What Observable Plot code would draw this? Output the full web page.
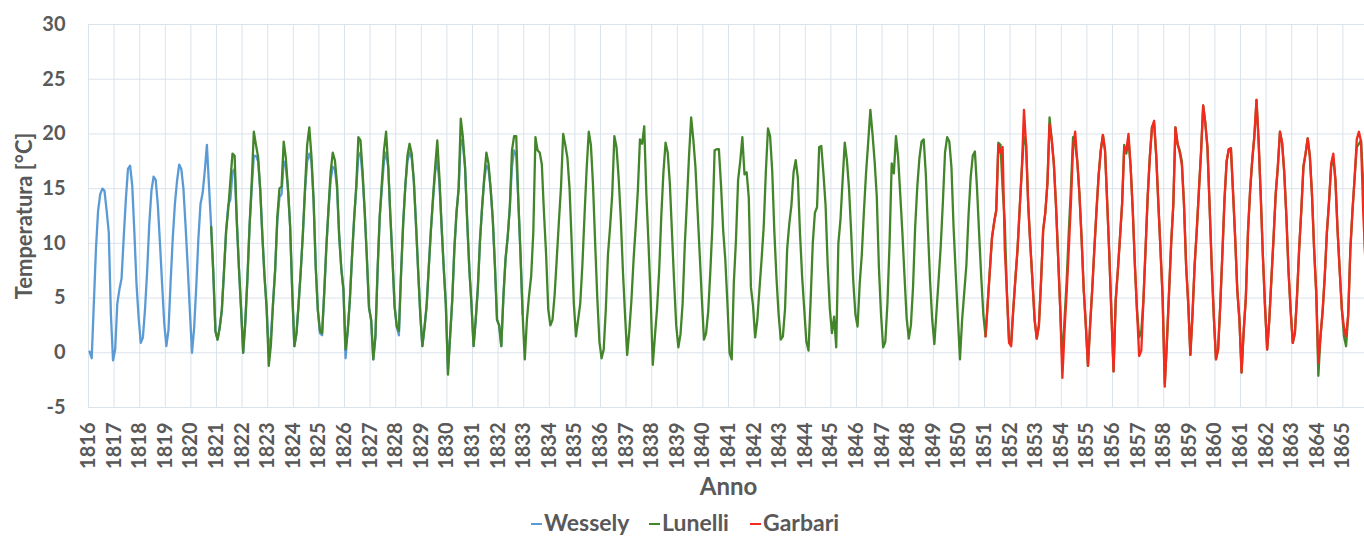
<!DOCTYPE html>
<html>
<head>
<meta charset="utf-8">
<script src="https://cdn.jsdelivr.net/npm/d3@7"></script>
<script src="https://cdn.jsdelivr.net/npm/@observablehq/plot@0.6"></script>
<style>
  html, body { margin: 0; padding: 0; background: #fff; overflow: hidden; }
  #chart { position: relative; width: 1364px; height: 536px; }
  #legend { position: absolute; left: 0; top: 505px; width: 1364px; height: 34px;
            font-family: Lato, "Open Sans", sans-serif; font-weight: bold; font-size: 23px; color: #595959; }
  #legend .item { position: absolute; top: 0; height: 34px; display: flex; align-items: center; white-space: nowrap; }
  #legend .swatch { width: 11px; height: 2px; margin-right: 2px; position: relative; top: 2px; }
</style>
</head>
<body>
<div id="chart"></div>
<script>
// Monthly mean temperatures (°C), one row per year, Jan..Dec.
// Each series starts at [year, month index] of its first value.
const wesselyStart = [1816, 0];
const wessely = [
  0.1, -0.5, 4.5, 9.5, 13.0, 14.5, 15.0, 14.8, 13.0, 11.0, 3.5, -0.7,   // 1816
  0.3, 4.5, 5.8, 6.8, 10.5, 14.0, 16.8, 17.1, 15.3, 11.0, 6.3, 3.2,     // 1817
  0.9, 1.4, 4.0, 7.5, 11.8, 14.8, 16.1, 15.8, 13.5, 10.0, 6.3, 2.7,     // 1818
  0.6, 2.1, 6.5, 10.5, 13.6, 15.7, 17.2, 16.8, 15.0, 11.6, 7.9, 3.9,    // 1819
  0.0, 2.2, 6.0, 10.4, 13.6, 14.6, 16.6, 19.0, 15.2, 11.5, 7.3, 2.0,    // 1820
  1.2, 2.3, 3.9, 7.4, 11.1, 13.5, 14.0, 16.5, 16.8, 12.1, 7.8, 4.1,     // 1821
  0.0, 2.8, 6.8, 11.6, 15.0, 18.0, 18.0, 17.5, 14.9, 10.7, 7.0, 4.1,    // 1822
  0.0, 1.5, 4.5, 7.6, 12.0, 14.2, 14.5, 17.5, 17.0, 15.0, 11.6, 5.6,    // 1823
  0.6, 1.8, 4.5, 7.5, 10.9, 14.8, 17.5, 18.2, 17.5, 14.0, 7.9, 3.9,     // 1824
  1.8, 1.6, 5.5, 9.7, 13.0, 15.8, 17.0, 16.8, 15.0, 10.7, 7.7, 5.8,     // 1825
  -0.5, 2.0, 4.8, 8.7, 12.2, 15.0, 18.0, 18.3, 16.0, 12.8, 8.6, 4.1,    // 1826
  3.0, -0.6, 1.5, 7.5, 12.4, 15.0, 17.5, 18.3, 17.0, 12.5, 8.5, 4.2,    // 1827
  2.4, 1.6, 7.2, 11.8, 15.2, 17.5, 18.3, 17.8, 15.7, 11.8, 7.6, 3.6,    // 1828
  0.6, 2.3, 4.3, 7.8, 11.2, 14.0, 16.5, 17.6, 15.5, 11.6, 7.8, 4.4,     // 1829
  -1.5, 1.5, 4.8, 9.5, 12.8, 15.0, 19.5, 19.0, 17.0, 12.1, 7.7, 4.5,    // 1830
  0.6, 3.0, 5.9, 10.2, 13.3, 15.8, 17.1, 16.8, 15.0, 12.2, 8.0, 3.0,    // 1831
  2.5, 0.6, 5.2, 8.6, 10.6, 13.3, 17.0, 18.5, 18.0, 13.8, 9.0, 3.5      // 1832
];

const lunelliStart = [1820, 9];
const lunelli = [
  11.5, 7.3, 2.0,                                                       // 1820 (Oct-Dec)
  1.2, 2.3, 3.9, 7.4, 11.1, 13.1, 15.7, 18.2, 18.0, 12.1, 7.8, 4.1,     // 1821
  0.0, 2.8, 6.8, 11.6, 15.5, 20.2, 19.0, 17.9, 14.9, 10.7, 7.0, 4.1,    // 1822
  -1.2, 0.7, 4.5, 7.6, 12.4, 15.0, 15.2, 19.3, 17.8, 15.0, 11.6, 5.6,   // 1823
  0.6, 1.8, 4.5, 7.5, 10.9, 15.1, 19.0, 20.6, 18.0, 14.0, 7.9, 3.9,     // 1824
  2.0, 1.8, 5.5, 9.7, 13.2, 16.5, 18.3, 17.6, 15.4, 10.7, 7.7, 5.8,     // 1825
  0.3, 2.0, 4.8, 8.7, 12.2, 15.2, 19.7, 19.4, 16.5, 12.8, 8.6, 4.1,     // 1826
  3.0, -0.6, 1.5, 7.5, 12.4, 15.5, 18.5, 20.2, 17.0, 12.5, 8.5, 4.2,    // 1827
  2.4, 2.0, 7.2, 11.8, 15.2, 18.0, 19.1, 18.2, 15.7, 11.8, 7.6, 3.6,    // 1828
  0.6, 2.3, 4.3, 7.8, 11.2, 14.2, 17.0, 19.4, 16.0, 11.6, 7.8, 4.4,     // 1829
  -2.0, 1.5, 4.8, 9.5, 12.8, 15.0, 21.4, 19.7, 17.0, 12.1, 7.7, 4.5,    // 1830
  0.6, 3.0, 5.9, 10.2, 13.3, 16.0, 18.3, 17.3, 15.0, 12.2, 8.0, 3.0,    // 1831
  2.5, 0.6, 5.2, 8.6, 10.6, 13.3, 18.5, 19.8, 19.8, 13.8, 9.0, 3.5,     // 1832
  -0.6, 3.0, 5.2, 7.0, 11.0, 19.7, 18.5, 18.3, 17.2, 12.8, 9.0, 4.0,    // 1833
  2.5, 3.0, 5.3, 8.6, 12.0, 15.2, 20.0, 19.0, 17.8, 15.0, 10.0, 4.5,    // 1834
  1.5, 3.0, 4.5, 8.0, 12.5, 16.8, 20.2, 19.0, 15.3, 10.0, 5.0, 1.0,     // 1835
  -0.5, 0.3, 4.0, 9.0, 11.5, 14.5, 19.8, 18.8, 16.0, 12.3, 7.5, 3.5,    // 1836
  -0.2, 2.0, 4.8, 8.5, 11.5, 14.8, 19.5, 19.1, 20.7, 14.5, 10.0, 5.0,   // 1837
  -1.1, 1.5, 4.0, 7.5, 12.5, 16.5, 19.2, 18.3, 15.5, 11.0, 6.5, 2.5,    // 1838
  0.5, 1.7, 4.5, 9.8, 13.8, 18.0, 21.5, 19.5, 17.0, 13.0, 9.0, 5.0,     // 1839
  1.2, 1.8, 3.8, 7.5, 11.8, 18.5, 18.6, 18.6, 15.3, 11.2, 8.5, 4.5,     // 1840
  0.0, -0.6, 6.4, 10.3, 15.8, 17.5, 19.7, 16.3, 16.5, 14.2, 6.0, 4.3,   // 1841
  1.4, 3.0, 5.8, 8.5, 11.5, 16.5, 20.5, 19.8, 16.6, 11.0, 6.8, 3.5,     // 1842
  1.2, 1.5, 4.0, 9.5, 11.8, 13.5, 16.5, 17.6, 16.0, 11.0, 7.0, 4.0,     // 1843
  1.0, 0.2, 4.8, 10.0, 12.8, 13.3, 18.8, 18.9, 16.4, 13.5, 8.0, 4.0,    // 1844
  1.8, 3.3, 0.5, 10.0, 12.2, 15.8, 19.2, 17.6, 15.0, 11.0, 6.5, 3.5,    // 1845
  2.4, 6.3, 9.0, 13.0, 16.5, 19.3, 22.2, 20.0, 17.5, 14.3, 7.8, 3.5,    // 1846
  0.5, 1.0, 4.5, 10.0, 17.3, 16.4, 19.8, 17.9, 14.5, 11.0, 7.0, 3.2,    // 1847
  1.3, 2.5, 6.0, 11.5, 15.2, 17.8, 19.3, 19.5, 16.3, 11.2, 6.5, 3.0,    // 1848
  0.8, 3.8, 6.7, 9.8, 13.8, 18.3, 19.7, 19.3, 17.0, 11.5, 7.3, 3.3,     // 1849
  -0.6, 3.0, 5.5, 8.0, 12.5, 16.0, 18.0, 18.4, 15.0, 10.8, 6.8, 3.4,    // 1850
  1.5, 4.5, 7.5, 10.5, 11.9, 13.0, 19.2, 19.0, 15.0, 12.0, 5.5, 1.2,    // 1851
  1.0, 4.0, 6.8, 9.5, 13.2, 16.8, 19.7, 19.0, 13.5, 9.8, 6.5, 3.0,      // 1852
  1.3, 2.5, 6.5, 11.2, 12.8, 15.5, 21.5, 19.5, 17.3, 13.5, 8.8, 4.0,    // 1853
  -0.9, 3.0, 6.5, 11.0, 15.0, 19.7, 19.0, 17.5, 14.5, 10.5, 5.8, 2.5,   // 1854
  -1.2, 2.5, 5.8, 9.5, 13.0, 16.2, 18.5, 19.9, 18.5, 13.8, 9.0, 3.5,    // 1855
  -1.7, 4.8, 7.5, 10.5, 13.6, 19.0, 18.2, 19.5, 17.0, 13.0, 8.0, 3.8,   // 1856
  1.4, 2.0, 4.8, 9.5, 14.3, 17.9, 20.6, 21.0, 18.0, 13.6, 9.4, 5.0,     // 1857
  -2.8, 1.0, 5.5, 10.0, 13.5, 20.6, 19.1, 18.5, 17.5, 13.6, 8.0, 4.5,   // 1858
  -0.2, 3.5, 8.0, 11.2, 14.8, 18.3, 22.6, 21.0, 18.8, 13.5, 8.0, 3.3,   // 1859
  -0.6, 0.3, 4.3, 9.0, 14.0, 17.5, 18.6, 18.7, 14.7, 10.5, 5.7, 3.0,    // 1860
  -1.8, 2.0, 5.0, 11.0, 14.8, 17.6, 19.8, 23.1, 19.3, 14.3, 8.8, 4.2,   // 1861
  0.3, 3.0, 6.8, 10.5, 14.5, 17.0, 20.2, 19.2, 16.5, 12.5, 7.5, 3.9,    // 1862
  0.9, 1.8, 5.2, 9.5, 13.0, 17.0, 18.2, 19.6, 18.0, 14.5, 9.5, 5.5,     // 1863
  -2.1, 1.5, 3.8, 7.0, 11.0, 13.8, 17.0, 17.8, 15.8, 11.2, 7.5, 4.0,    // 1864
  1.5, 0.6, 3.5, 9.5, 13.0, 16.0, 18.8, 19.1, 19.4, 15.5, 8.5, 3.0      // 1865
];

const garbariStart = [1851, 0];
const garbari = [
  1.5, 4.5, 7.5, 10.5, 11.9, 13.0, 19.0, 18.3, 18.8, 9.5, 5.5, 0.9,     // 1851
  0.6, 4.0, 6.8, 9.5, 13.2, 16.8, 22.2, 19.0, 13.5, 9.8, 6.5, 3.0,      // 1852
  1.3, 2.5, 6.5, 11.2, 12.8, 15.5, 20.9, 19.5, 17.3, 13.5, 8.8, 4.0,    // 1853
  -2.3, 2.0, 5.5, 9.4, 13.6, 18.8, 20.2, 17.5, 14.5, 10.5, 5.8, 2.5,    // 1854
  -1.2, 2.5, 5.8, 9.5, 13.0, 16.2, 18.5, 19.9, 18.5, 13.8, 9.0, 3.5,    // 1855
  -1.7, 4.8, 7.5, 10.5, 13.6, 18.8, 18.5, 20.0, 17.0, 13.0, 8.0, 3.8,   // 1856
  -0.3, 0.2, 4.8, 9.5, 14.3, 17.9, 20.6, 21.2, 18.0, 13.6, 9.4, 5.0,    // 1857
  -3.1, 1.0, 5.5, 10.0, 13.5, 20.6, 19.1, 18.3, 17.2, 13.6, 8.0, 4.5,   // 1858
  -0.2, 3.5, 8.0, 11.2, 14.8, 18.3, 22.6, 21.0, 18.8, 13.5, 8.0, 3.3,   // 1859
  -0.6, 0.3, 4.3, 9.0, 14.0, 17.5, 18.6, 18.7, 14.7, 10.5, 5.7, 3.0,    // 1860
  -1.8, 2.0, 5.0, 11.0, 14.8, 17.6, 19.8, 23.1, 19.3, 14.3, 8.8, 4.2,   // 1861
  0.3, 3.0, 6.8, 10.5, 14.5, 17.0, 20.2, 19.2, 16.5, 12.5, 7.5, 3.9,    // 1862
  0.9, 1.8, 5.2, 9.5, 13.0, 17.0, 18.2, 19.6, 18.0, 14.5, 9.5, 5.5,     // 1863
  -0.9, 1.5, 3.8, 7.0, 11.0, 13.8, 17.3, 18.2, 15.8, 11.2, 7.5, 4.0,    // 1864
  2.3, 1.5, 3.5, 9.5, 13.0, 16.0, 19.5, 20.2, 19.3, 13.0, 8.5, 3.0      // 1865
];

const seriesNames = ["Wessely", "Lunelli", "Garbari"];
const seriesColors = ["#5b9bd5", "#43852a", "#f32a1e"];
const yTicks = [-5, 0, 5, 10, 15, 20, 25, 30];
const years = d3.range(1816, 1866);

// Turn a monthly array into points placed at the middle of each month (decimal years)
function monthly(name, [year0, month0], values) {
  return values.map((v, i) => ({series: name, t: year0 + (month0 + i + 0.5) / 12, v}));
}
const points = [
  ...monthly("Wessely", wesselyStart, wessely),
  ...monthly("Lunelli", lunelliStart, lunelli),
  ...monthly("Garbari", garbariStart, garbari)
];

const grid = "#dbe3eb";
const ink = "#595959";

const chart = Plot.plot({
  width: 1364,
  height: 505,
  marginLeft: 88,
  marginRight: -4,
  marginTop: 24,
  marginBottom: 98,
  style: {fontFamily: "Lato, 'Open Sans', sans-serif", fontWeight: "bold", color: ink, background: "#fff", overflow: "hidden"},
  x: {domain: [1816, 1866]},
  y: {domain: [-5, 30]},
  color: {domain: seriesNames, range: seriesColors},
  marks: [
    Plot.ruleY(yTicks, {stroke: grid, strokeWidth: 1}),
    Plot.ruleX(years, {stroke: grid, strokeWidth: 1}),
    Plot.axisY(yTicks, {tickSize: 0, tickPadding: 23, fontSize: 20, fill: ink, label: null, tickFormat: d => String(d)}),
    Plot.axisX(years, {tickSize: 0, tickPadding: 15, tickRotate: -90, fontSize: 20, fill: ink, label: null, tickFormat: d => String(d)}),
    Plot.text(["Temperatura [°C]"], {frameAnchor: "left", dx: -64, rotate: -90, textAnchor: "middle", lineAnchor: "middle", fontSize: 22, fill: ink}),
    Plot.text(["Anno"], {frameAnchor: "bottom", dy: 80, textAnchor: "middle", lineAnchor: "middle", fontSize: 24, fill: ink}),
    Plot.line(points, {x: "t", y: "v", z: "series", stroke: "series", strokeWidth: 2.3})
  ]
});

const host = document.getElementById("chart");
host.appendChild(chart);

// Legend below the plot
const legend = document.createElement("div");
legend.id = "legend";
const itemLeft = [531, 649, 750];
seriesNames.forEach((name, i) => {
  const item = document.createElement("div");
  item.className = "item";
  item.style.left = itemLeft[i] + "px";
  const sw = document.createElement("span");
  sw.className = "swatch";
  sw.style.background = seriesColors[i];
  const label = document.createElement("span");
  label.textContent = name;
  item.appendChild(sw);
  item.appendChild(label);
  legend.appendChild(item);
});
host.appendChild(legend);
</script>
</body>
</html>
